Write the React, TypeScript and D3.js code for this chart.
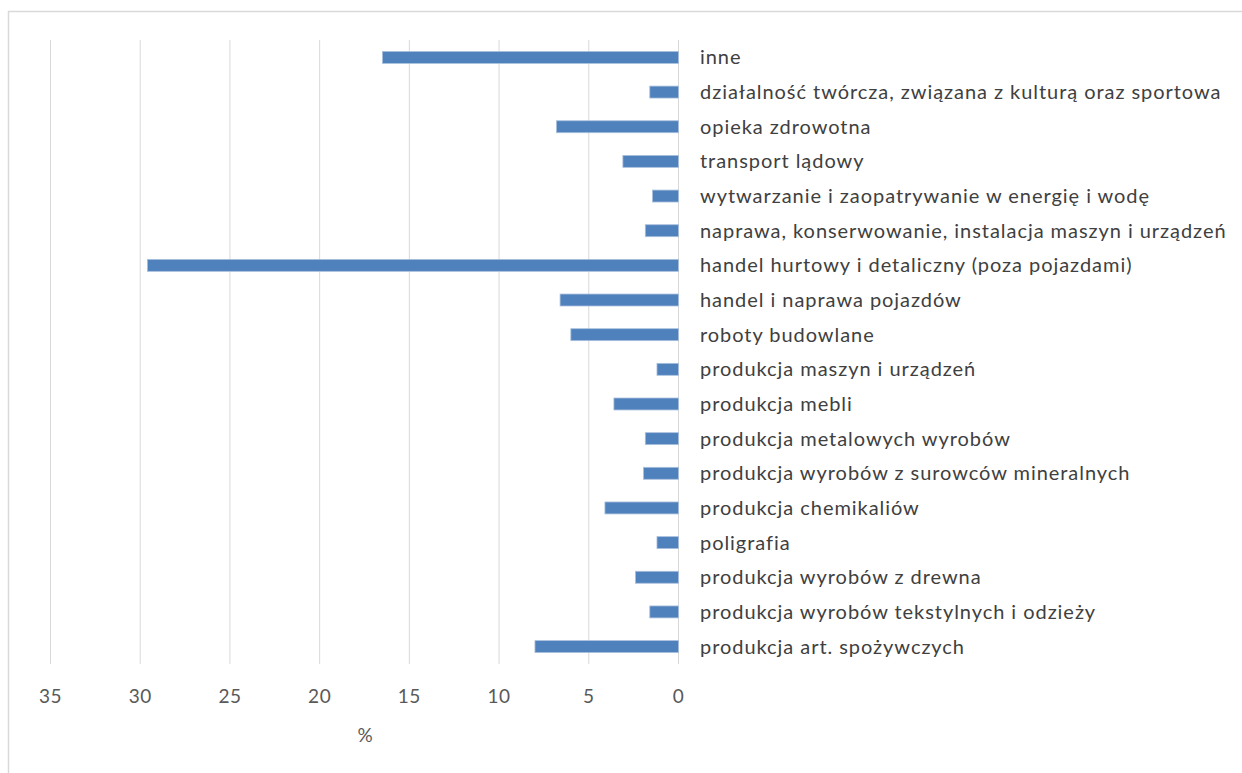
import React from "react";
import * as d3 from "d3";

const categories = [
  "inne",
  "działalność twórcza, związana z kulturą oraz sportowa",
  "opieka zdrowotna",
  "transport lądowy",
  "wytwarzanie i zaopatrywanie w energię i wodę",
  "naprawa, konserwowanie, instalacja maszyn i urządzeń",
  "handel hurtowy i detaliczny (poza pojazdami)",
  "handel i naprawa pojazdów",
  "roboty budowlane",
  "produkcja maszyn i urządzeń",
  "produkcja mebli",
  "produkcja metalowych wyrobów",
  "produkcja wyrobów z surowców mineralnych",
  "produkcja chemikaliów",
  "poligrafia",
  "produkcja wyrobów z drewna",
  "produkcja wyrobów tekstylnych i odzieży",
  "produkcja art. spożywczych",
];

const values = [16.5, 1.6, 6.8, 3.1, 1.45, 1.85, 29.6, 6.6, 6.0, 1.2, 3.6, 1.85, 1.95, 4.1, 1.2, 2.4, 1.6, 8.0];

const tickValues = [35, 30, 25, 20, 15, 10, 5, 0];
const axisTitle = "%";

export default function App() {
  const W = 1242;
  const H = 773;
  const x = d3.scaleLinear().domain([0, 35]).range([678.5, 50.5]);
  const y = d3.scaleBand<string>().domain(categories).range([40, 664]).paddingInner(0.655).paddingOuter(0.33);
  const font = "Lato, 'Open Sans', sans-serif";
  return (
    <svg width={W} height={H} style={{ position: "absolute", left: 0, top: 0, display: "block" }}>
      <rect x={0} y={0} width={W} height={H} fill="#ffffff" />
      <rect x={8.5} y={11.5} width={1245} height={800} fill="none" stroke="#d9d9d9" strokeWidth={1.5} />
      {tickValues.map((t) => (
        <line key={"g" + t} x1={x(t)} x2={x(t)} y1={40} y2={664} stroke="#d9d9d9" strokeWidth={1} />
      ))}
      {categories.map((c, i) => {
        const v = values[i];
        return (
          <rect
            key={c}
            x={x(v)}
            y={y(c)}
            width={x(0) - x(v)}
            height={y.bandwidth()}
            fill="#4f81bd"
            stroke="#a9c0dc"
            strokeWidth={0.8}
          />
        );
      })}
      {categories.map((c) => (
        <text
          key={"l" + c}
          x={700}
          y={(y(c) ?? 0) + y.bandwidth() / 2}
          dy="0.35em"
          fontFamily={font}
          fontSize={20}
          letterSpacing={0.95}
          fill="#404040"
        >
          {c}
        </text>
      ))}
      {tickValues.map((t) => (
        <text
          key={"t" + t}
          x={x(t)}
          y={696}
          dy="0.35em"
          textAnchor="middle"
          fontFamily={font}
          fontSize={19}
          letterSpacing={0.5}
          fill="#595959"
        >
          {t}
        </text>
      ))}
      <text x={365} y={735} dy="0.35em" textAnchor="middle" fontFamily={font} fontSize={19} fill="#595959">
        {axisTitle}
      </text>
    </svg>
  );
}
